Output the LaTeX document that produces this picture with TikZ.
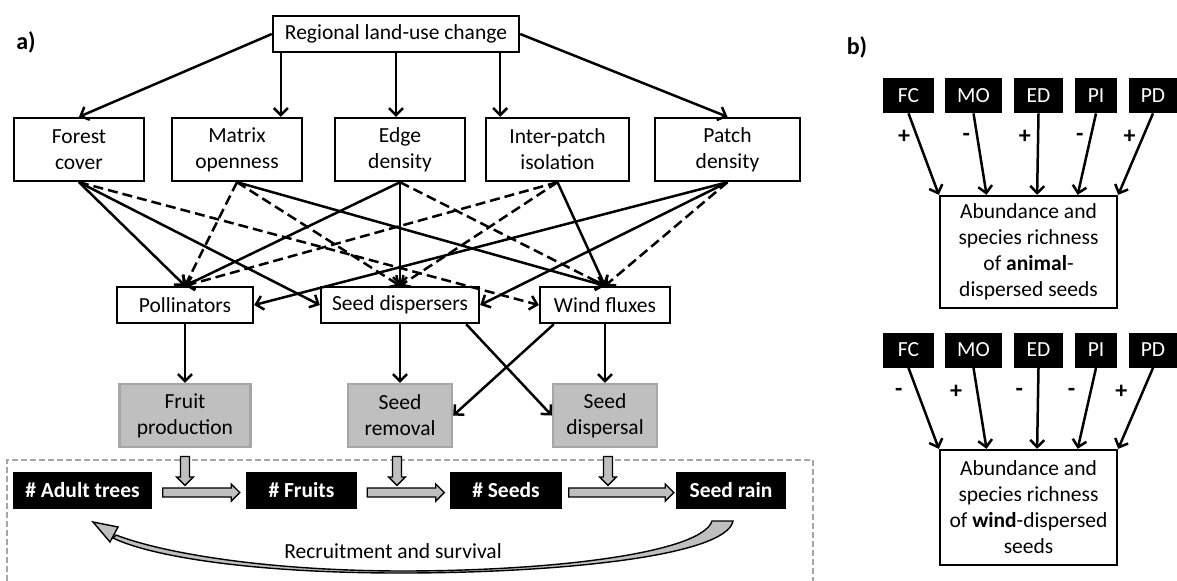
\documentclass[tikz,border=0pt]{standalone}
\usepackage{fontspec}
\setmainfont{Carlito}
\usepackage{tikz}
\usetikzlibrary{positioning,arrows.meta,shapes.arrows,calc}
\newcommand{\dfont}{\fontsize{10.75}{13}\selectfont}
\tikzset{
	box/.style={draw=black, line width=1.2pt, align=center, inner sep=0pt, font=\dfont},
	greybox/.style={draw=gray!70, fill=gray!50, line width=1.2pt, align=center, inner sep=0pt, font=\dfont},
	blackbox/.style={fill=black, text=white, inner sep=0pt, minimum height=18.5pt, font=\dfont\bfseries},
	tag/.style={fill=black, text=white, inner sep=0pt, minimum height=17.5pt, font=\dfont},
	link/.style={line width=1.25pt, -{Straight Barb[length=3.5pt,width=7pt]}},
	dlink/.style={link, dash pattern=on 5pt off 2.5pt},
	flow/.style={single arrow, draw=black, fill=gray!50, line width=0.7pt, inner xsep=0pt, inner ysep=1.9pt, single arrow head extend=2pt, minimum width=7.8pt},
	sign/.style={font=\fontsize{12}{14}\selectfont\bfseries, inner sep=1pt}
}

\begin{document}
\begin{tikzpicture}[x=0.5pt, y=-0.5pt]
		\useasboundingbox (0,0) rectangle (1177,580);
		\node[font=\fontsize{12}{14}\selectfont\bfseries] (pa) at (26,42) {a)};
		\node[font=\fontsize{12}{14}\selectfont\bfseries] (pb) at (857,47) {b)};
		
		\node[box, minimum width=123pt, minimum height=18pt] (reg) at (396,34) {Regional land-use change};
		\node[box, minimum width=65pt, minimum height=31.5pt] (fc) at (79,149.5) {Forest\\cover};
		\node[box, minimum width=65pt, minimum height=31.5pt] (mo) at (237,149.5) {Matrix\\openness};
		\node[box, minimum width=65pt, minimum height=31.5pt] (ed) at (400,149.5) {Edge\\density};
		\node[box, minimum width=71.5pt, minimum height=31.5pt] (pi) at (557.5,149.5) {Inter-patch\\isolation};
		\node[box, minimum width=72.5pt, minimum height=31.5pt] (pd) at (727.5,149.5) {Patch\\density};
		
		\node[box, minimum width=68pt, minimum height=18pt] (pol) at (185,305) {Pollinators};
		\node[box, minimum width=79pt, minimum height=18pt] (sd) at (400,305) {Seed dispersers};
		\node[box, minimum width=65pt, minimum height=18pt] (wf) at (605,305) {Wind fluxes};
		
		\node[greybox, minimum width=65.5pt, minimum height=31.5pt] (fp) at (185,415.5) {Fruit\\production};
		\node[greybox, minimum width=52pt, minimum height=31.5pt] (sr) at (400,415.5) {Seed\\removal};
		\node[greybox, minimum width=52pt, minimum height=31.5pt] (sdl) at (605,415.5) {Seed\\dispersal};
		
		\draw[gray!70, line width=0.6pt, dash pattern=on 3pt off 1.5pt] (7,590) |- (813,460) -- (813,590);
		
		\node[blackbox, minimum width=69.5pt] (adult) at (82.5,490.5) {\# Adult trees};
		\node[blackbox, minimum width=55.5pt] (fruits) at (301.5,490.5) {\# Fruits};
		\node[blackbox, minimum width=56pt] (seeds) at (506,490.5) {\# Seeds};
		\node[blackbox, minimum width=55pt] (rain) at (731,490.5) {Seed rain};
		
		\coordinate (r1) at ($(reg.south west)+(9,0)$);
		\coordinate (r2) at ($(reg.south east)+(-20,0)$);
		\draw[link] (reg.west) -- (fc.north);
		\draw[link] (r1) -- (r1 |- mo.north);
		\draw[link] (reg.south) -- (reg.south |- ed.north);
		\draw[link] (r2) -- (r2 |- pi.north);
		\draw[link] (reg.east) -- (pd.north);
		
		\draw[link] (fc.south) -- (pol.north);
		\draw[link] (fc.south) -- (sd.west);
		\draw[dlink] (fc.south) -- (wf.west);
		\draw[dlink] (mo.south) -- (pol.north);
		\draw[dlink] (mo.south) -- (sd.north);
		\draw[link] (mo.south) -- (wf.north);
		\draw[link] (ed.south) -- (pol.north);
		\draw[link] (ed.south) -- (sd.north);
		\draw[dlink] (ed.south) -- (wf.north);
		\draw[dlink] (pi.south) -- (pol.north);
		\draw[dlink] (pi.south) -- (sd.north);
		\draw[link] (pi.south) -- (wf.north);
		\draw[link] (pd.south) -- (pol.east);
		\draw[link] (pd.south) -- (sd.east);
		\draw[dlink] (pd.south) -- (wf.north);
		
		\coordinate (s1) at ($(sd.south east)+(-14,0)$);
		\coordinate (w1) at ($(wf.south west)+(15,0)$);
		\draw[link] (pol.south) -- (fp.north);
		\draw[link] (sd.south) -- (sr.north);
		\draw[link] (wf.south) -- (sdl.north);
		\draw[link] (s1) -- (sdl.west);
		\draw[link] (w1) -- (sr.east);
		
		\node[flow, minimum height=38.5pt] (h1) at ($(adult.east)!.5!(fruits.west)+(0,2)$) {};
		\node[flow, minimum height=38.5pt] (h2) at ($(fruits.east)!.5!(seeds.west)+(0,2)$) {};
		\node[flow, minimum height=52.5pt] (h3) at ($(seeds.east)!.5!(rain.west)+(0,2)$) {};
		\node[flow, minimum height=14.5pt, rotate=-90] (v1) at ($(fp.south)+(0,20.5)$) {};
		\node[flow, minimum height=14.5pt, rotate=-90] (v2) at ($(sr.south)+(-3,20.5)$) {};
		\node[flow, minimum height=14.5pt, rotate=-90] (v3) at ($(sdl.south)+(3,20.5)$) {};
		
		\filldraw[fill=gray!50, draw=black, line width=0.7pt] (733,521) .. controls (726,556) and (560,573) .. (400,573) .. controls (250,573) and (150,556) .. (113,538) -- (116,535) .. controls (160,552) and (260,570.5) .. (400,571) .. controls (560,571) and (702,552) .. (712,521) -- cycle;
		\filldraw[fill=gray!50, draw=black, line width=0.7pt] (93,522) -- (118,527) -- (110,542) -- cycle;
		\node[font=\dfont] (rec) at (393,551) {Recruitment and survival};
		
		\node[tag, minimum width=25.5pt] (fc1) at (908.5,95.5) {FC};
		\node[tag, minimum width=28.5pt] (mo1) at (973.5,95.5) {MO};
		\node[tag, minimum width=24.5pt] (ed1) at (1038.5,95.5) {ED};
		\node[tag, minimum width=21pt] (pi1) at (1096,95.5) {PI};
		\node[tag, minimum width=24pt] (pd1) at (1153,95.5) {PD};
		\node[box, minimum width=88.5pt, minimum height=56pt] (anim) at (1028.5,252) {Abundance and\\species richness\\of \textbf{animal}-\\dispersed seeds};
		
		\node[tag, minimum width=25.5pt] (fc2) at (908.5,350) {FC};
		\node[tag, minimum width=28.5pt] (mo2) at (973.5,350) {MO};
		\node[tag, minimum width=24.5pt] (ed2) at (1038.5,350) {ED};
		\node[tag, minimum width=21pt] (pi2) at (1096,350) {PI};
		\node[tag, minimum width=24pt] (pd2) at (1153,350) {PD};
		\node[box, minimum width=88.5pt, minimum height=57.5pt] (wind) at (1028.5,507.5) {Abundance and\\species richness\\of \textbf{wind}-dispersed\\seeds};
		
		\foreach \src/\fr/\sgn in {fc1/0/+, mo1/0.266/-, ed1/0.548/+, pi1/0.774/-, pd1/1/+}
			\draw[link] (\src.south) -- node[sign, pos=.29, left=2pt] {\sgn} ($(anim.north west)!\fr!(anim.north east)$);
		\foreach \src/\fr/\sgn in {fc2/0/-, mo2/0.266/+, ed2/0.548/-, pi2/0.774/-, pd2/1/+}
			\draw[link] (\src.south) -- node[sign, pos=.3, left=6pt] {\sgn} ($(wind.north west)!\fr!(wind.north east)$);
	\end{tikzpicture}
\end{document}
